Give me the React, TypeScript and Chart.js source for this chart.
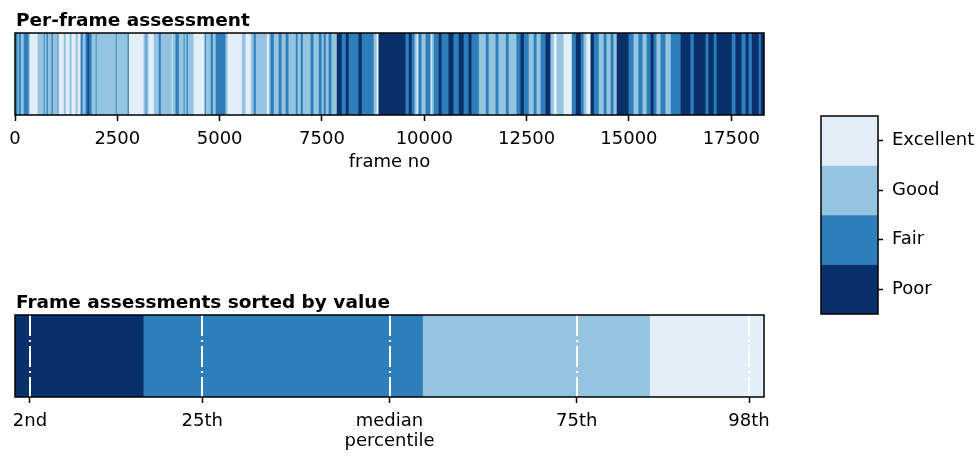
import React, { useEffect, useRef } from 'react';
import { Chart, registerables } from 'chart.js';

Chart.register(...registerables);

// Assessment levels (0 = Poor ... 3 = Excellent)
const levelNames = ['Poor', 'Fair', 'Good', 'Excellent'];
const levelColors = ['#08306b', '#2e7ebc', '#94c4df', '#e3eef9'];

// Per-frame assessment, run-length encoded: each run ends at the given frame number
const runEndFrames = [
  70, 100, 150, 220, 340, 370, 560, 710, 730, 780,
  810, 900, 930, 1050, 1070, 1200, 1250, 1340, 1390, 1490,
  1540, 1610, 1660, 1730, 1780, 1810, 1880, 1980, 2000, 2470,
  2490, 2760, 2790, 3150, 3200, 3220, 3270, 3400, 3520, 3570,
  3840, 3860, 3930, 4010, 4130, 4150, 4200, 4230, 4370, 4640,
  4670, 4790, 4840, 4910, 5150, 5200, 5550, 5640, 5770, 5840,
  5890, 6160, 6210, 6250, 6330, 6450, 6520, 6620, 6690, 6870,
  6910, 6990, 7040, 7230, 7300, 7430, 7500, 7550, 7600, 7670,
  7740, 7870, 7990, 8090, 8160, 8400, 8480, 8770, 8840, 8890,
  9550, 9630, 9700, 9770, 9820, 9850, 9870, 9940, 10040, 10160,
  10190, 10240, 10360, 10430, 10600, 10720, 10850, 10970, 11090, 11160,
  11340, 11510, 11580, 11750, 11820, 12000, 12070, 12260, 12360, 12440,
  12560, 12680, 12750, 12850, 12970, 13090, 13170, 13240, 13410, 13610,
  13710, 13830, 13900, 13970, 14070, 14150, 14270, 14390, 14460, 14560,
  14630, 14710, 15000, 15120, 15240, 15340, 15440, 15540, 15610, 15680,
  15780, 15900, 16030, 16270, 16510, 16590, 16880, 16950, 17080, 17150,
  17520, 17610, 17760, 17860, 17930, 18010, 18180, 18230, 18300,
];
const runLevels = [
  1, 2, 1, 2, 1, 2, 3, 2, 1, 2,
  1, 2, 1, 2, 1, 3, 2, 3, 2, 3,
  2, 3, 1, 2, 1, 0, 1, 2, 1, 2,
  1, 2, 1, 3, 2, 1, 2, 3, 2, 1,
  2, 3, 2, 1, 2, 1, 2, 1, 2, 3,
  1, 2, 1, 2, 1, 2, 3, 2, 3, 2,
  1, 2, 3, 2, 1, 2, 1, 2, 1, 2,
  1, 2, 1, 2, 1, 2, 1, 2, 1, 2,
  1, 2, 0, 1, 0, 1, 0, 1, 2, 3,
  0, 1, 0, 1, 2, 3, 2, 1, 2, 1,
  3, 2, 1, 0, 1, 0, 1, 0, 1, 0,
  1, 2, 1, 2, 1, 2, 1, 2, 1, 0,
  1, 2, 1, 2, 1, 0, 2, 3, 2, 3,
  1, 0, 1, 2, 3, 0, 1, 2, 1, 2,
  1, 2, 0, 1, 2, 1, 2, 1, 0, 1,
  2, 1, 2, 1, 0, 1, 0, 1, 0, 1,
  0, 1, 0, 1, 0, 1, 0, 1, 0,
];

const frameTickValues = [0, 2500, 5000, 7500, 10000, 12500, 15000, 17500];

// Sorted panel: share of frames (percent) per level, Poor -> Excellent
const sortedLevelShares = [17.2, 37.3, 30.3, 15.2];
const percentileValues = [2, 25, 50, 75, 98];
const percentileLabels = ['2nd', '25th', 'median', '75th', '98th'];

const FONT = '"DejaVu Sans", Verdana, sans-serif';
const totalFrames = runEndFrames[runEndFrames.length - 1];

function framePlugin(title: string) {
  return {
    id: 'panelFrame',
    afterDatasetsDraw(chart: any) {
      const { ctx, chartArea: a } = chart;
      ctx.save();
      ctx.strokeStyle = '#000';
      ctx.lineWidth = 1.5;
      ctx.strokeRect(a.left, a.top, a.right - a.left, a.bottom - a.top);
      if (title) {
        ctx.font = `bold 18.5px ${FONT}`;
        ctx.fillStyle = '#000';
        ctx.textAlign = 'left';
        ctx.textBaseline = 'alphabetic';
        ctx.fillText(title, a.left + 1, a.top - 7);
      }
      ctx.restore();
    },
  };
}

const percentileLinesPlugin = {
  id: 'percentileLines',
  afterDatasetsDraw(chart: any) {
    const { ctx, chartArea: a, scales } = chart;
    ctx.save();
    ctx.strokeStyle = '#ffffff';
    ctx.lineWidth = 2;
    ctx.setLineDash([21, 4, 2, 4]);
    for (const p of percentileValues) {
      const x = Math.round(scales.x.getPixelForValue(p));
      ctx.beginPath();
      ctx.moveTo(x, a.top);
      ctx.lineTo(x, a.bottom);
      ctx.stroke();
    }
    ctx.restore();
  },
};

const tickFont = { family: FONT, size: 18 };

export default function App() {
  const stripRef = useRef<HTMLCanvasElement>(null);
  const sortedRef = useRef<HTMLCanvasElement>(null);
  const barRef = useRef<HTMLCanvasElement>(null);

  useEffect(() => {
    document.body.style.margin = '0';
    const charts: Chart[] = [];

    // Per-frame strip
    charts.push(
      new Chart(stripRef.current!, {
        type: 'bar',
        data: {
          labels: ['frames'],
          datasets: [
            {
              data: runEndFrames.map((end, i) => ({
                x: [i === 0 ? 0 : runEndFrames[i - 1], end],
                y: 'frames',
              })) as any,
              backgroundColor: runLevels.map((l) => levelColors[l]),
              borderWidth: 0,
              barPercentage: 1,
              categoryPercentage: 1,
            },
          ],
        },
        options: {
          indexAxis: 'y',
          animation: false,
          responsive: false,
          events: [],
          layout: { padding: { left: 15, right: 36, top: 33, bottom: 0 } },
          plugins: { legend: { display: false }, tooltip: { enabled: false } },
          scales: {
            x: {
              type: 'linear',
              min: 0,
              max: totalFrames,
              afterBuildTicks: (axis: any) => {
                axis.ticks = frameTickValues.map((v) => ({ value: v }));
              },
              afterFit: (axis: any) => {
                axis.height = 62;
              },
              ticks: {
                autoSkip: false,
                maxRotation: 0,
                padding: 8,
                color: '#000',
                font: tickFont,
                callback: (v: any) => String(v),
              },
              grid: { display: true, drawOnChartArea: false, drawTicks: true, tickLength: 6, tickWidth: 1.5, tickColor: '#000' },
              border: { display: false },
              title: { display: true, text: 'frame no', color: '#000', font: tickFont, padding: { top: 4, bottom: 4 } },
            },
            y: { type: 'category', display: false },
          },
        } as any,
        plugins: [framePlugin('Per-frame assessment')],
      })
    );

    // Sorted panel
    const starts: number[] = [];
    let acc = 0;
    for (const s of sortedLevelShares) {
      starts.push(acc);
      acc += s;
    }
    charts.push(
      new Chart(sortedRef.current!, {
        type: 'bar',
        data: {
          labels: ['sorted'],
          datasets: [
            {
              data: sortedLevelShares.map((s, i) => ({ x: [starts[i], starts[i] + s], y: 'sorted' })) as any,
              backgroundColor: levelColors,
              borderWidth: 0,
              barPercentage: 1,
              categoryPercentage: 1,
            },
          ],
        },
        options: {
          indexAxis: 'y',
          animation: false,
          responsive: false,
          events: [],
          layout: { padding: { left: 15, right: 36, top: 45, bottom: 0 } },
          plugins: { legend: { display: false }, tooltip: { enabled: false } },
          scales: {
            x: {
              type: 'linear',
              min: 0,
              max: 100,
              afterBuildTicks: (axis: any) => {
                axis.ticks = percentileValues.map((v) => ({ value: v }));
              },
              afterFit: (axis: any) => {
                axis.height = 59;
              },
              ticks: {
                autoSkip: false,
                maxRotation: 0,
                padding: 8,
                color: '#000',
                font: tickFont,
                callback: (_v: any, i: number) => percentileLabels[i],
              },
              grid: { display: true, drawOnChartArea: false, drawTicks: true, tickLength: 6, tickWidth: 1.5, tickColor: '#000' },
              border: { display: false },
              title: { display: true, text: 'percentile', color: '#000', font: tickFont, padding: { top: 4, bottom: 4 } },
            },
            y: { type: 'category', display: false },
          },
        } as any,
        plugins: [percentileLinesPlugin, framePlugin('Frame assessments sorted by value')],
      })
    );

    // Colour bar
    charts.push(
      new Chart(barRef.current!, {
        type: 'bar',
        data: {
          labels: ['levels'],
          datasets: [
            {
              data: levelNames.map((_, i) => ({ x: 'levels', y: [i, i + 1] })) as any,
              backgroundColor: levelColors,
              borderWidth: 0,
              barPercentage: 1,
              categoryPercentage: 1,
            },
          ],
        },
        options: {
          animation: false,
          responsive: false,
          events: [],
          layout: { padding: { left: 21, right: 0, top: 16, bottom: 16 } },
          plugins: { legend: { display: false }, tooltip: { enabled: false } },
          scales: {
            x: { type: 'category', display: false },
            y: {
              type: 'linear',
              position: 'right',
              min: 0,
              max: levelNames.length,
              afterBuildTicks: (axis: any) => {
                axis.ticks = levelNames.map((_, i) => ({ value: i + 0.5 }));
              },
              afterFit: (axis: any) => {
                axis.width = 101;
                axis.paddingTop = 0;
                axis.paddingBottom = 0;
              },
              ticks: {
                autoSkip: false,
                padding: 9,
                color: '#000',
                font: tickFont,
                callback: (_v: any, i: number) => levelNames[i],
              },
              grid: { display: true, drawOnChartArea: false, drawTicks: true, tickLength: 5, tickWidth: 1.5, tickColor: '#000' },
              border: { display: false },
            },
          },
        } as any,
        plugins: [framePlugin('')],
      })
    );

    return () => charts.forEach((c) => c.destroy());
  }, []);

  return (
    <div style={{ position: 'absolute', left: 0, top: 0, width: 979, height: 456, background: '#fff', overflow: 'hidden' }}>
      <canvas ref={stripRef} width={800} height={177} style={{ position: 'absolute', left: 0, top: 0 }} />
      <canvas ref={sortedRef} width={800} height={186} style={{ position: 'absolute', left: 0, top: 270 }} />
      <canvas ref={barRef} width={179} height={230} style={{ position: 'absolute', left: 800, top: 100 }} />
    </div>
  );
}
